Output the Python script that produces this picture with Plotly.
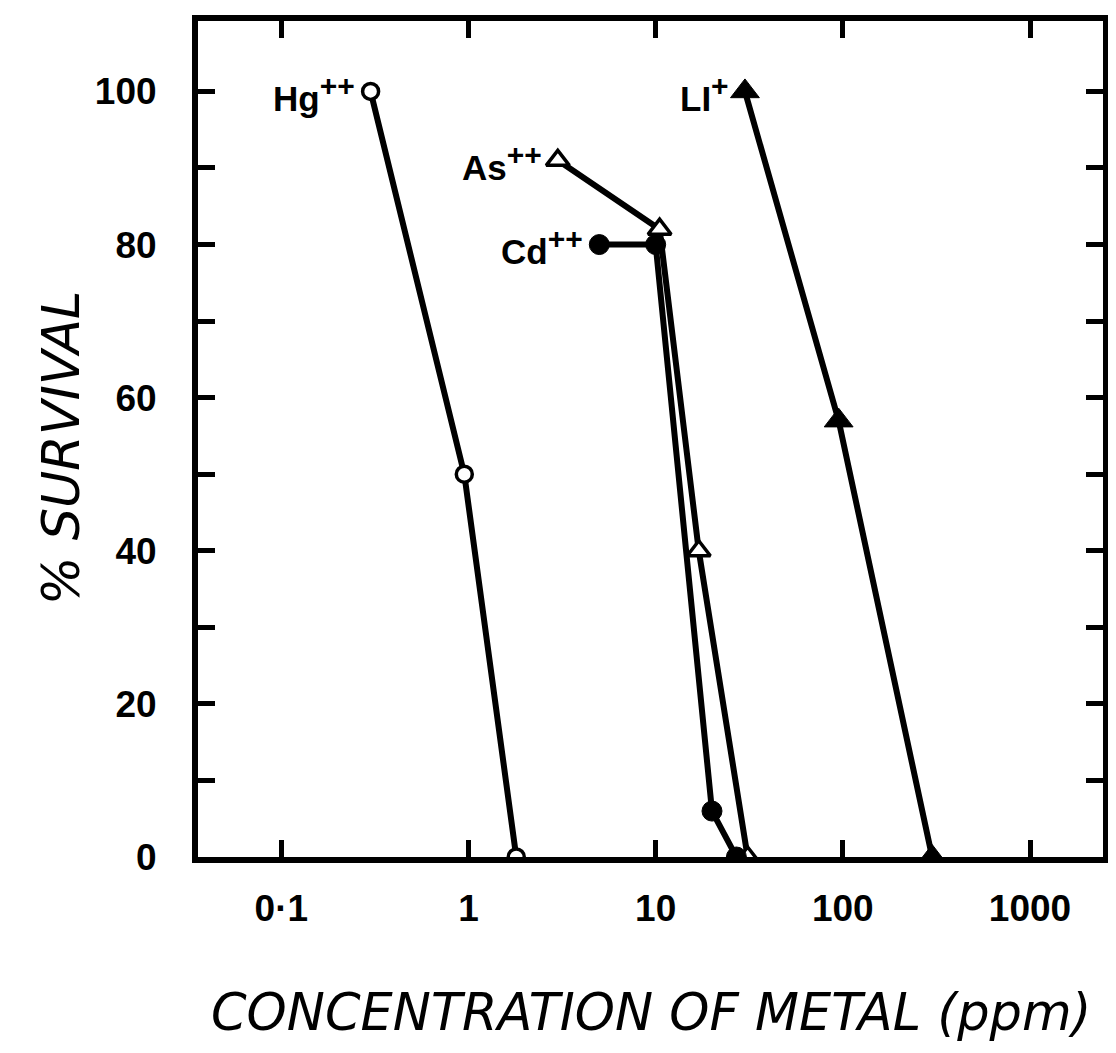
import numpy as np
import plotly.graph_objects as go

# ---- data ----
hg_conc = [0.3, 0.95, 1.8]
hg_surv = [100, 50, 0]
as_conc = [3.0, 10.5, 17.0, 31.0]
as_surv = [91, 82, 40, 0]
cd_conc = [5.0, 10.0, 20.0, 27.0]
cd_surv = [80, 80, 6, 0]
li_conc = [30.0, 95.0, 300.0]
li_surv = [100, 57, 0]

series_names = ["Hg", "As", "Cd", "LI"]
series_charges = ["++", "++", "++", "+"]

x_tickvals = [0.1, 1, 10, 100, 1000]
x_ticktext = ["0·1", "1", "10", "100", "1000"]
y_tickvals = [0, 20, 40, 60, 80, 100]
y_ticktext = ["0", "20", "40", "60", "80", "100"]
y_minor_step = 10

x_title = "CONCENTRATION OF METAL (ppm)"
y_title = "% SURVIVAL"

BLACK = "#000000"
fig = go.Figure()

fig.add_trace(go.Scatter(
    x=hg_conc, y=hg_surv, mode="lines+markers", name="Hg",
    line=dict(color=BLACK, width=6),
    marker=dict(symbol="circle", size=16, color="white", line=dict(color=BLACK, width=3.5)),
))
fig.add_trace(go.Scatter(
    x=as_conc, y=as_surv, mode="lines+markers", name="As",
    line=dict(color=BLACK, width=6),
    marker=dict(symbol="triangle-up", size=20, color="white", line=dict(color=BLACK, width=3.5)),
))
fig.add_trace(go.Scatter(
    x=cd_conc, y=cd_surv, mode="lines+markers", name="Cd",
    line=dict(color=BLACK, width=6),
    marker=dict(symbol="circle", size=20, color=BLACK, line=dict(color=BLACK, width=1)),
))
fig.add_trace(go.Scatter(
    x=li_conc, y=li_surv, mode="lines+markers", name="Li",
    line=dict(color=BLACK, width=6),
    marker=dict(symbol="triangle-up", size=25, color=BLACK, line=dict(color=BLACK, width=1)),
))

# series labels, left of each first point
first_pts = [(hg_conc[0], hg_surv[0]), (as_conc[0], as_surv[0]),
             (cd_conc[0], cd_surv[0]), (li_conc[0], li_surv[0])]
for name, chg, (xv, yv) in zip(series_names, series_charges, first_pts):
    lab = f'{name}<sup><span style="font-size:30px">{chg}</span></sup>'
    fig.add_annotation(
        x=np.log10(xv), y=yv, xref="x", yref="y", text=lab, showarrow=False,
        xanchor="right", yanchor="middle", xshift=-14, yshift=-2,
        font=dict(family="Liberation Sans", size=35, color=BLACK, weight="bold"),
    )

# axis titles
fig.add_annotation(
    x=0.5, y=0, xref="paper", yref="paper", text=x_title, showarrow=False,
    xanchor="center", yanchor="middle", yshift=-155,
    font=dict(family="DejaVu Sans", size=51, color=BLACK, style="italic"),
)
fig.add_annotation(
    x=0, y=0.5, xref="paper", yref="paper", text=y_title, showarrow=False,
    textangle=-90, xanchor="center", yanchor="middle", xshift=-137, yshift=-9,
    font=dict(family="DejaVu Sans", size=51, color=BLACK, style="italic"),
)

tickfont = dict(family="Liberation Sans", size=37, color=BLACK, weight="bold")

fig.update_xaxes(
    type="log", range=[-1.445, 3.39],
    tickvals=x_tickvals, ticktext=x_ticktext,
    ticks="inside", ticklen=17, tickwidth=5, tickcolor=BLACK,
    showline=True, linewidth=6, linecolor=BLACK, mirror="ticks",
    showgrid=False, zeroline=False, tickfont=tickfont, ticklabelstandoff=14,
)
fig.update_yaxes(
    range=[0, 109.2],
    tickvals=y_tickvals, ticktext=y_ticktext,
    ticks="inside", ticklen=17, tickwidth=5, tickcolor=BLACK,
    minor=dict(dtick=y_minor_step, ticks="inside", ticklen=17, tickwidth=5,
               tickcolor=BLACK, showgrid=False),
    showline=True, linewidth=6, linecolor=BLACK, mirror="ticks",
    showgrid=False, zeroline=False, tickfont=tickfont, ticklabelstandoff=28,
)

# page body has an 8px default margin; size the figure to compensate
fig.update_layout(
    width=1108, height=1045,
    margin=dict(l=190, r=12, t=7, b=196),
    paper_bgcolor="white", plot_bgcolor="white",
    showlegend=False,
)

fig.write_html("out.html")
